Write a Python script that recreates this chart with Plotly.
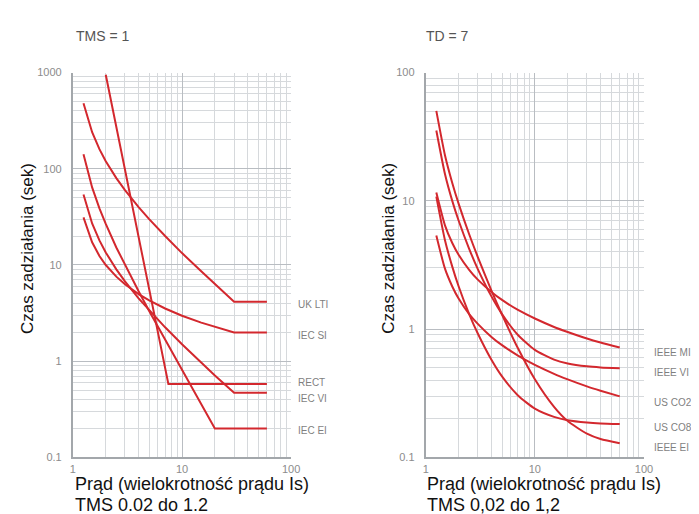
import plotly.graph_objects as go
import numpy as np

# ---------------- data: left chart (TMS = 1) ----------------
I_left = [1.25, 1.5, 1.75, 2, 2.5, 3, 4, 5, 7, 10, 15, 20, 30, 60]
uk_lti = [480, 240, 160, 120, 80, 60, 40, 30, 20, 13.3, 8.6, 6.3, 4.14, 4.14]
iec_si = [31.3, 17.2, 12.4, 10.0, 7.57, 6.30, 4.98, 4.28, 3.53, 2.97, 2.52, 2.27, 1.99, 1.99]
iec_vi = [54, 27, 18, 13.5, 9.0, 6.75, 4.5, 3.38, 2.25, 1.5, 0.96, 0.71, 0.47, 0.47]
iec_ei = [142, 64, 38.8, 26.7, 15.2, 10.0, 5.33, 3.33, 1.67, 0.81, 0.36, 0.2, 0.2, 0.2]
I_rect = [2, 2.25, 2.5, 3, 3.5, 4, 4.5, 5, 6, 7, 7.5, 60]
rect = [950, 495, 273, 98, 41.3, 19.5, 10.1, 5.59, 2.01, 0.85, 0.58, 0.58]

# ---------------- data: right chart (TD = 7) ----------------
I_right = [1.25, 1.5, 1.75, 2, 2.5, 3, 4, 5, 7, 10, 15, 20, 30, 40, 60]
ieee_mi = [11.6, 6.44, 4.69, 3.80, 2.90, 2.43, 1.95, 1.69, 1.41, 1.21, 1.04, 0.95, 0.845, 0.786, 0.718]
ieee_vi = [35.4, 16.2, 10.0, 7.03, 4.23, 2.94, 1.80, 1.31, 0.90, 0.689, 0.578, 0.54, 0.513, 0.503, 0.496]
us_co2 = [5.37, 2.96, 2.15, 1.73, 1.31, 1.10, 0.87, 0.75, 0.622, 0.526, 0.448, 0.406, 0.358, 0.331, 0.299]
us_co8 = [10.8, 4.94, 3.07, 2.16, 1.31, 0.924, 0.577, 0.428, 0.304, 0.240, 0.207, 0.195, 0.187, 0.184, 0.182]
ieee_ei = [50.3, 22.7, 13.8, 9.52, 5.49, 3.65, 2.00, 1.30, 0.709, 0.407, 0.248, 0.192, 0.153, 0.139, 0.129]

left_series = [("UK LTI", I_left, uk_lti), ("IEC SI", I_left, iec_si),
               ("RECT", I_rect, rect), ("IEC VI", I_left, iec_vi),
               ("IEC EI", I_left, iec_ei)]
right_series = [("IEEE MI", I_right, ieee_mi), ("IEEE VI", I_right, ieee_vi),
                ("US CO2", I_right, us_co2), ("US CO8", I_right, us_co8),
                ("IEEE EI", I_right, ieee_ei)]

x_ticks = [1, 10, 100]
x_ticktext = ["1", "10", "100"]
y_ticks_left = [0.1, 1, 10, 100, 1000]
y_ticktext_left = ["0.1", "1", "10", "100", "1000"]
y_ticks_right = [0.1, 1, 10, 100]
y_ticktext_right = ["0.1", "1", "10", "100"]

x_title = "Prąd (wielokrotność prądu Is)"
x_sub_left = "TMS 0.02 do 1.2"
x_sub_right = "TMS 0,02 do 1,2"
y_title = "Czas zadziałania (sek)"

# ---------------- styling ----------------
RED = "#d3282e"
FONT = "Liberation Sans, Arial, sans-serif"
GRID_MAJOR = "#b9bdc2"
GRID_MINOR = "#d6d9dc"
TICK_GREY = "#8c8c8c"
label_shift_left = {"UK LTI": -3, "IEC SI": -3, "RECT": 1, "IEC VI": -6, "IEC EI": -2}
label_shift_right = {"IEEE MI": -5, "IEEE VI": -4, "US CO2": -6, "US CO8": -3, "IEEE EI": -4}

fig = go.Figure()

for name, xs, ys in left_series:
    fig.add_trace(go.Scatter(x=xs, y=ys, mode="lines", name=name,
                             line=dict(color=RED, width=2), xaxis="x", yaxis="y",
                             showlegend=False, hoverinfo="skip"))
for name, xs, ys in right_series:
    fig.add_trace(go.Scatter(x=xs, y=ys, mode="lines", name=name,
                             line=dict(color=RED, width=2, shape="spline", smoothing=0.6),
                             xaxis="x2", yaxis="y2", showlegend=False, hoverinfo="skip"))

minor_vals = [m * 10 ** d for d in range(-1, 3) for m in range(2, 10)]


def xaxis_cfg(domain, anchor):
    return dict(type="log", range=[0, 2], domain=domain, anchor=anchor,
                tickmode="array", tickvals=x_ticks, ticktext=x_ticktext,
                tickfont=dict(family=FONT, size=11, color=TICK_GREY),
                showgrid=True, gridcolor=GRID_MAJOR, gridwidth=1,
                minor=dict(tickvals=minor_vals, showgrid=True, gridcolor=GRID_MINOR, gridwidth=1),
                showline=True, linecolor="#a3a7ab", linewidth=2, ticks="",
                ticklabelstandoff=0, zeroline=False, fixedrange=True)


def yaxis_cfg(rng, tv, tt, anchor):
    return dict(type="log", range=rng, domain=[1 - 454 / 514, 1 - 60 / 514], anchor=anchor,
                tickmode="array", tickvals=tv, ticktext=tt,
                tickfont=dict(family=FONT, size=11, color=TICK_GREY),
                showgrid=True, gridcolor=GRID_MAJOR, gridwidth=1,
                minor=dict(tickvals=minor_vals, showgrid=True, gridcolor=GRID_MINOR, gridwidth=1),
                showline=True, linecolor="#a3a7ab", linewidth=2, ticks="",
                ticklabelstandoff=7, zeroline=False, fixedrange=True)


fig.update_layout(
    width=699, height=514,
    margin=dict(l=0, r=0, t=0, b=0),
    paper_bgcolor="white", plot_bgcolor="white",
    xaxis=xaxis_cfg([63 / 699, 285 / 699], "y"),
    yaxis=yaxis_cfg([-1, 3], y_ticks_left, y_ticktext_left, "x"),
    xaxis2=xaxis_cfg([422 / 699, 644 / 699], "y2"),
    yaxis2=yaxis_cfg([-1, 2], y_ticks_right, y_ticktext_right, "x2"),
    font=dict(family=FONT),
)

ann = []
for name, xs, ys in left_series:
    ann.append(dict(text=name, xref="x domain", yref="y", x=1.022, y=np.log10(ys[-1]),
                    xanchor="left", yanchor="middle", showarrow=False, yshift=label_shift_left[name],
                    font=dict(family=FONT, size=10, color="#7f7f7f")))
for name, xs, ys in right_series:
    ann.append(dict(text=name, xref="x2 domain", yref="y2", x=1.036, y=np.log10(ys[-1]),
                    xanchor="left", yanchor="middle", showarrow=False, yshift=label_shift_right[name],
                    font=dict(family=FONT, size=10, color="#7f7f7f")))

# panel titles
ann.append(dict(text="TMS = 1", xref="paper", yref="paper", x=64 / 699, y=1 - 23 / 514,
                xanchor="left", yanchor="middle", showarrow=False,
                font=dict(family=FONT, size=14, color="#555555")))
ann.append(dict(text="TD = 7", xref="paper", yref="paper", x=420 / 699, y=1 - 23 / 514,
                xanchor="left", yanchor="middle", showarrow=False,
                font=dict(family=FONT, size=14, color="#555555")))

# axis titles
for xc in (17, 384):
    ann.append(dict(text=y_title, xref="paper", yref="paper",
                    x=xc / 699, y=1 - 240 / 514, textangle=-90,
                    xanchor="center", yanchor="middle", showarrow=False,
                    font=dict(family=FONT, size=17, color="#111111")))
for x0, sub in ((63, x_sub_left), (421, x_sub_right)):
    ann.append(dict(text=x_title, xref="paper", yref="paper",
                    x=x0 / 699, y=1 - 481.5 / 514, xanchor="left", yanchor="middle",
                    showarrow=False, font=dict(family=FONT, size=18, color="#111111")))
    ann.append(dict(text=sub, xref="paper", yref="paper",
                    x=x0 / 699, y=1 - 503 / 514, xanchor="left", yanchor="middle",
                    showarrow=False, font=dict(family=FONT, size=18, color="#111111")))

fig.update_layout(annotations=ann)
fig.write_html("out.html")
